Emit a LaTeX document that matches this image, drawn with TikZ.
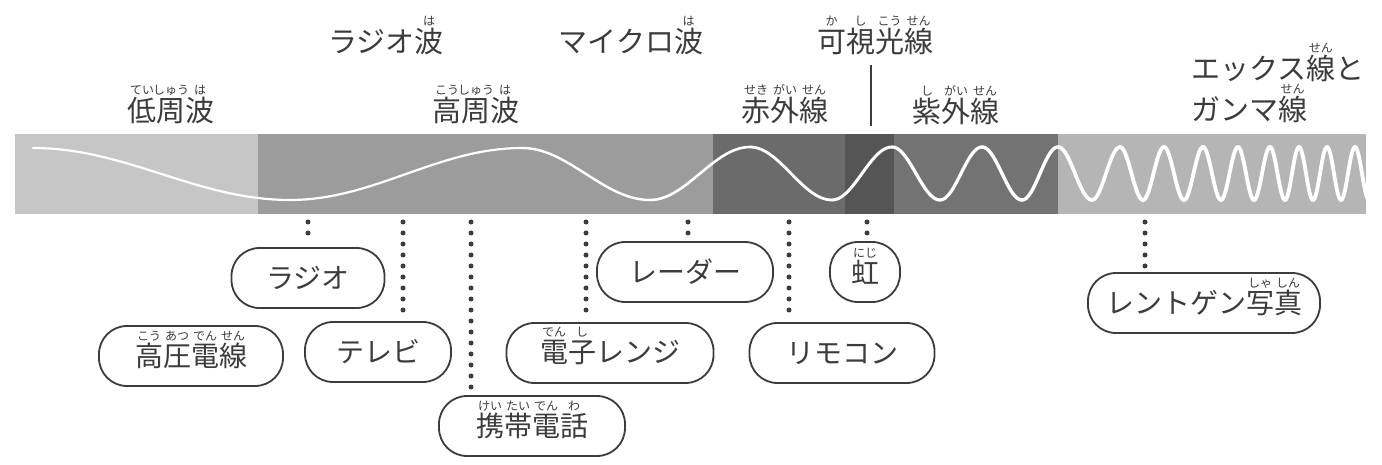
\documentclass[tikz,border=0pt]{standalone}
\usepackage{fontspec}
\setmainfont{Noto Sans CJK JP}
\definecolor{ink}{HTML}{3C3C3C}
\definecolor{bandlow}{HTML}{C6C6C6}
\definecolor{bandhigh}{HTML}{9C9C9C}
\definecolor{bandir}{HTML}{6B6B6B}
\definecolor{bandvis}{HTML}{555555}
\definecolor{banduv}{HTML}{737373}
\definecolor{bandx}{HTML}{B5B5B5}
\newcommand\rubyfont{\fontsize{12}{12}\selectfont}
\newcommand\rb[2]{{\setbox0\hbox{#1}\setbox2\hbox{\rubyfont #2}\rlap{\raisebox{0.93em}[0pt][0pt]{\hbox to\wd0{\hss\box2\hss}}}\box0}}
\tikzset{
  head/.style={inner sep=0pt, text=ink, font=\fontsize{29}{29}\selectfont},
  boxlabel/.style={draw=ink, line width=1.8pt, fill=white, rounded corners=28pt,
    minimum height=60pt, inner sep=0pt, text=ink, font=\fontsize{28}{28}\selectfont},
  dots/.style={draw=ink, line width=5pt, line cap=round, dash pattern=on 0pt off 11pt},
  wave/.style={draw=white, line cap=round}
}
\begin{document}
\begin{tikzpicture}[x=1pt,y=-1pt]
\useasboundingbox[fill=white] (0,0) rectangle (1382,465);
% band
\fill[bandlow]  (15,134) rectangle (258,214);
\fill[bandhigh] (258,134) rectangle (713,214);
\fill[bandir]   (713,134) rectangle (845,214);
\fill[bandvis]  (845,134) rectangle (894,214);
\fill[banduv]   (894,134) rectangle (1058,214);
\fill[bandx]    (1058,134) rectangle (1366,214);
% wave
\begin{scope}
\clip (15,134) rectangle (1366,214);
\foreach \xa/\xb/\ya/\yb/\lw in {
  33/290/148/200/2.2, 290/522/200/148/2.2, 522/650/148/200/2.4, 650/750/200/147/2.6,
  750/832/147/200/2.8, 832/892/200/147/3.0, 892/940/147/200/3.2, 940/982/200/147/3.2,
  982/1022/147/200/3.4, 1022/1058/200/147/3.4, 1058/1092/147/200/3.6, 1092/1120/200/147/3.6,
  1120/1143/147/200/3.8, 1143/1164/200/147/3.8, 1164/1184/147/200/3.8, 1184/1203/200/147/3.8,
  1203/1221/147/200/3.8, 1221/1238/200/147/3.8, 1238/1254/147/200/3.8, 1254/1270/200/147/3.8,
  1270/1285/147/200/3.8, 1285/1299/200/147/3.8, 1299/1313/147/200/3.8, 1313/1327/200/147/3.8,
  1327/1341/147/200/3.8, 1341/1355/200/147/3.8, 1355/1369/147/200/3.8}
{
  \draw[wave, line width=\lw pt] plot[domain=0:180, samples=30, variable=\t]
    ({\xa+\t/180*(\xb-\xa)}, {(\ya+\yb)/2+(\ya-\yb)/2*cos(\t)});
}
\end{scope}
% headings
\node[head] (radiowave) at (386,41) {ラジオ\rb{波}{は}};
\node[head] (micro) at (631,41) {マイクロ\rb{波}{は}};
\node[head] (visible) at (875,41) {\rb{可}{か}\rb{視}{し}\rb{光}{こう}\rb{線}{せん}};
\node[head] (low) at (171,111) {\rb{低}{てい}\rb{周}{しゅう}\rb{波}{は}};
\node[head] (high) at (476,111) {\rb{高}{こう}\rb{周}{しゅう}\rb{波}{は}};
\node[head] (ir) at (785,111) {\rb{赤}{せき}\rb{外}{がい}\rb{線}{せん}};
\node[head] (uv) at (956,111) {\rb{紫}{し}\rb{外}{がい}\rb{線}{せん}};
\node[head, anchor=west] (xray) at (1191,68) {エックス\rb{線}{せん}と};
\node[head, anchor=west] (gamma) at (1191,109) {ガンマ\rb{線}{せん}};
\coordinate (sepTop) at (871,65);
\coordinate (sepBot) at (871,126);
\draw[ink, line width=2pt] (sepTop) -- (sepBot);
% boxes
\node[boxlabel, minimum width=153pt] (radio) at (308,278) {ラジオ};
\node[boxlabel, minimum width=184pt] (koatsu) at (191,356) {\raisebox{-3pt}{\rb{高}{こう}\rb{圧}{あつ}\rb{電}{でん}\rb{線}{せん}}};
\node[boxlabel, minimum width=146pt] (tv) at (378,352) {テレビ};
\node[boxlabel, minimum width=186pt] (keitai) at (532,426) {\raisebox{-3pt}{\rb{携}{けい}\rb{帯}{たい}\rb{電}{でん}\rb{話}{わ}}};
\node[boxlabel, minimum width=207pt] (denshi) at (610,353) {\raisebox{-3pt}{\rb{電}{でん}\rb{子}{し}レンジ}};
\node[boxlabel, minimum width=176pt] (radar) at (685,272) {レーダー};
\node[boxlabel, minimum width=185pt] (remocon) at (842,353) {リモコン};
\node[boxlabel, minimum width=70pt] (niji) at (865,272) {\raisebox{-3pt}{\rb{虹}{にじ}}};
\node[boxlabel, minimum width=232pt] (xphoto) at (1204,303) {\raisebox{-3pt}{レントゲン\rb{写}{しゃ}\rb{真}{しん}}};
% dotted connectors
\coordinate (d1) at (308,222);
\coordinate (d2) at (403,222);
\coordinate (d3) at (471,222);
\coordinate (d4) at (586,222);
\coordinate (d5) at (688,222);
\coordinate (d6) at (789,222);
\coordinate (d7) at (867,222);
\coordinate (d8) at (1145,222);
\draw[dots] (d1) -- ([yshift=6pt]d1 |- radio.north);
\draw[dots] (d2) -- ([yshift=6pt]d2 |- tv.north);
\draw[dots] (d3) -- ([yshift=6pt]d3 |- keitai.north);
\draw[dots] (d4) -- ([yshift=6pt]d4 |- denshi.north);
\draw[dots] (d5) -- ([yshift=6pt]d5 |- radar.north);
\draw[dots] (d6) -- ([yshift=6pt]d6 |- remocon.north);
\draw[dots] (d7) -- ([yshift=6pt]d7 |- niji.north);
\draw[dots] (d8) -- ([yshift=6pt]d8 |- xphoto.north);
\end{tikzpicture}
\end{document}
